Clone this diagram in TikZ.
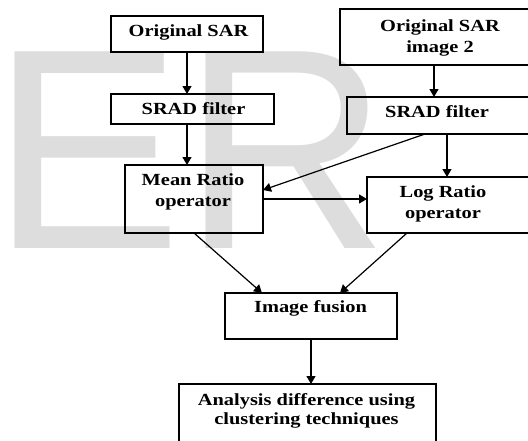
\documentclass[tikz,border=0pt]{standalone}
\usepackage{fontspec}
\setmainfont[FakeStretch=1.2]{Liberation Serif}
\newfontfamily\wmfont{Liberation Sans}
\usetikzlibrary{arrows.meta}
\definecolor{wm}{HTML}{DDDDDD}
\begin{document}
\begin{tikzpicture}[x=1pt,y=-1pt,
  box/.style={draw=black, line width=1.4pt, inner sep=0pt, outer sep=0pt},
  lbl/.style={inner sep=0pt, anchor=base, text=black, font=\fontsize{17}{17}\selectfont\bfseries},
  arr/.style={draw=black, line width=1.2pt, -{Triangle[length=8pt,width=9pt]}}]
\useasboundingbox (0,0) rectangle (528,440);
\clip (0,0) rectangle (528,440);
% watermark
\node[inner sep=0pt, anchor=base west, text=wm, font=\wmfont\fontsize{286}{286}\selectfont] (wm) at (-8.6,248) {ER};
% boxes
\node[box, minimum width=152pt, minimum height=36pt] (o1) at (187,34) {};
\node[box, minimum width=200pt, minimum height=56pt] (o2) at (440,37) {};
\node[box, minimum width=163pt, minimum height=30pt] (s1) at (192.5,109) {};
\node[box, minimum width=193pt, minimum height=37pt] (s2) at (443.5,115.5) {};
\node[box, minimum width=138pt, minimum height=68pt] (mr) at (194,199) {};
\node[box, minimum width=173pt, minimum height=56pt] (lr) at (453.5,205) {};
\node[box, minimum width=172pt, minimum height=46pt] (fu) at (311,316) {};
\node[box, minimum width=257pt, minimum height=76pt] (an) at (307.5,422) {};
% labels
\node[lbl] (o1a) at (188.5,36.5) {Original SAR};
\node[lbl] (o2a) at (440,31.5) {Original SAR};
\node[lbl] (o2b) at (440,52) {image 2};
\node[lbl] (s1a) at (193.5,114) {SRAD filter};
\node[lbl] (s2a) at (437,117) {SRAD filter};
\node[lbl] (mra) at (193,185.5) {Mean Ratio};
\node[lbl] (mrb) at (193,206.5) {operator};
\node[lbl] (lra) at (443,197) {Log Ratio};
\node[lbl] (lrb) at (443,218) {operator};
\node[lbl] (fua) at (310.5,312.5) {Image fusion};
\node[lbl] (ana) at (306.5,405.5) {Analysis difference using};
\node[lbl] (anb) at (306.5,424.5) {clustering techniques};
% connectors
\draw[arr] (o1.south) -- (o1.south |- s1.north);
\draw[arr] (s1.south -| o1.south) -- (o1.south |- mr.north);
\draw[arr] ([xshift=-6pt]o2.south) -- ([xshift=-6pt]o2.south |- s2.north);
\draw[arr] ([xshift=3.5pt]s2.south) -- ([xshift=3.5pt]s2.south |- lr.north);
\draw[arr] ([xshift=-18.5pt]s2.south) -- ([yshift=9pt]mr.east);
\draw[arr] (mr.east) -- (mr.east -| lr.west);
\draw[arr] (mr.south) -- ([xshift=-49pt]fu.north);
\draw[arr] ([xshift=-46.5pt]lr.south) -- ([xshift=29pt]fu.north);
\draw[arr] (fu.south) -- (fu.south |- an.north);
\end{tikzpicture}
\end{document}
